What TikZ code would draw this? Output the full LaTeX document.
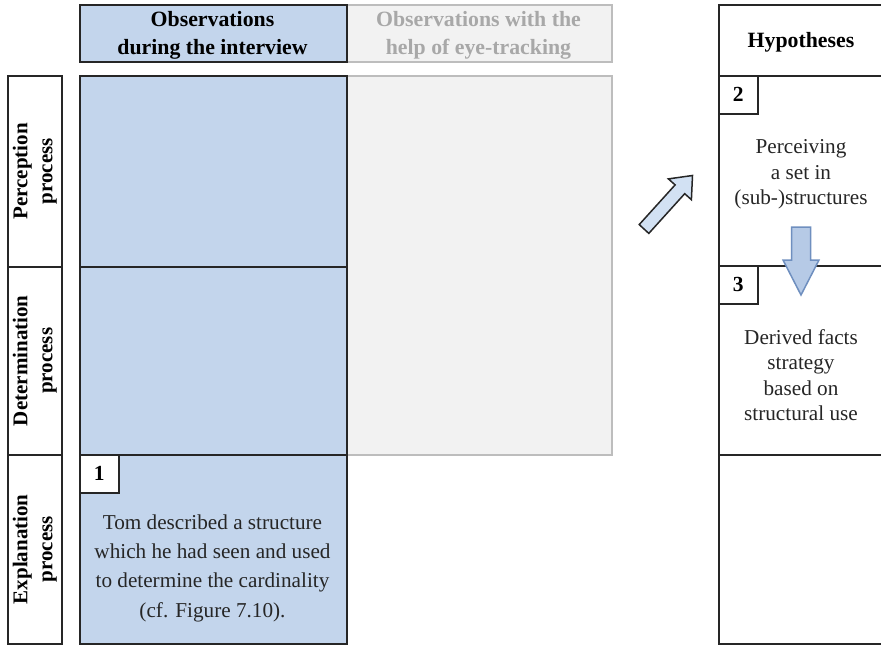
\documentclass[tikz,border=0pt]{standalone}
\usepackage{fontspec}
\setmainfont{Liberation Serif}
\definecolor{obsblue}{HTML}{C3D5EC}
\definecolor{arrowblue}{HTML}{D2E1F3}
\definecolor{downblue}{HTML}{B6CAE6}
\definecolor{downedge}{HTML}{6F8FBF}
\definecolor{graybg}{HTML}{F2F2F2}
\definecolor{grayedge}{HTML}{BDBDBD}
\definecolor{graytext}{HTML}{A8A8A8}
\definecolor{edge}{HTML}{262626}
\tikzset{
  cellbox/.style={draw=edge, line width=1.5pt, inner sep=0pt, anchor=north west},
  bluecell/.style={cellbox, fill=obsblue},
  graycell/.style={draw=grayedge, line width=1.5pt, fill=graybg, inner sep=0pt, anchor=north west},
  whitecell/.style={cellbox, fill=white},
  numbox/.style={draw=edge, line width=1.5pt, fill=white, inner sep=0pt, anchor=north west,
    minimum width=39pt, minimum height=38pt, font=\fontsize{21.5}{25}\selectfont\bfseries},
  headtext/.style={align=center, font=\fontsize{21.8}{28}\selectfont\bfseries},
  sidetext/.style={align=center, rotate=90, font=\fontsize{21}{25}\selectfont\bfseries},
  bodytext/.style={align=center, text=black!85, font=\fontsize{21.2}{25.5}\selectfont},
  blockarrow/.style={line width=1.5pt, line join=miter},
}
\begin{document}
\begin{tikzpicture}[x=1pt, y=-1pt]
\clip (0,0) rectangle (881,645);
\fill[white] (0,0) rectangle (881,645);

% column headers
\node[graycell, minimum width=265pt, minimum height=57pt] (hgray) at (346,4) {};
\node[headtext, text=graytext] (hgraytxt) at (478.5,35) {Observations with the\\help of eye-tracking};
\node[bluecell, minimum width=267pt, minimum height=57pt] (hblue) at (79,4) {};
\node[headtext] (hbluetxt) at (212.5,35) {Observations\\during the interview};

% eye-tracking column (rows 1 and 2)
\node[graycell, minimum width=265pt, minimum height=379pt] (gbody) at (346,75) {};

% interview column
\node[bluecell, minimum width=267pt, minimum height=191pt] (b1) at (79,75) {};
\node[bluecell, minimum width=267pt, minimum height=188pt] (b2) at (79,266) {};
\node[bluecell, minimum width=267pt, minimum height=189pt] (b3) at (79,454) {};
\node[numbox] (n1) at (79,454) {1};
\node[bodytext, font=\fontsize{21.2}{29.3}\selectfont] (t1) at (212.5,568)
  {Tom described a structure\\which he had seen and used\\to determine the cardinality\\(cf. Figure 7.10).};

% row labels
\node[whitecell, minimum width=54pt, minimum height=191pt] (l1) at (7,75) {};
\node[whitecell, minimum width=54pt, minimum height=188pt] (l2) at (7,266) {};
\node[whitecell, minimum width=54pt, minimum height=189pt] (l3) at (7,454) {};
\node[sidetext] (l1txt) at (l1.center) {Perception\\process};
\node[sidetext] (l2txt) at (l2.center) {Determination\\process};
\node[sidetext] (l3txt) at (l3.center) {Explanation\\process};

% hypotheses column
\node[whitecell, minimum width=166pt, minimum height=71pt] (hh) at (718,4) {};
\node[headtext] (hhtxt) at (801,42) {Hypotheses};
\node[whitecell, minimum width=166pt, minimum height=190pt] (h2) at (718,75) {};
\node[whitecell, minimum width=166pt, minimum height=189pt] (h3) at (718,265) {};
\node[whitecell, minimum width=166pt, minimum height=189pt] (h4) at (718,454) {};
\node[numbox] (n2) at (718,75) {2};
\node[numbox] (n3) at (718,265) {3};
\node[bodytext] (t2) at (801,174.5) {Perceiving\\a set in\\(sub-)structures};
\node[bodytext] (t3) at (801,375) {Derived facts\\strategy\\based on\\structural use};

% block arrow from the observations towards hypothesis 2
\draw[blockarrow, draw=edge, fill=arrowblue]
  (639.2,224.6) -- (675.1,184.9) -- (668.4,178.9) -- (692.5,175.5)
  -- (691.4,199.7) -- (684.7,193.7) -- (648.8,233.4) -- cycle;

% block arrow from hypothesis 2 down to hypothesis 3
\draw[blockarrow, draw=downedge, fill=downblue]
  (791.5,227) -- (810.5,227) -- (810.5,260) -- (819,260)
  -- (801,295) -- (783,260) -- (791.5,260) -- cycle;
\end{tikzpicture}
\end{document}
